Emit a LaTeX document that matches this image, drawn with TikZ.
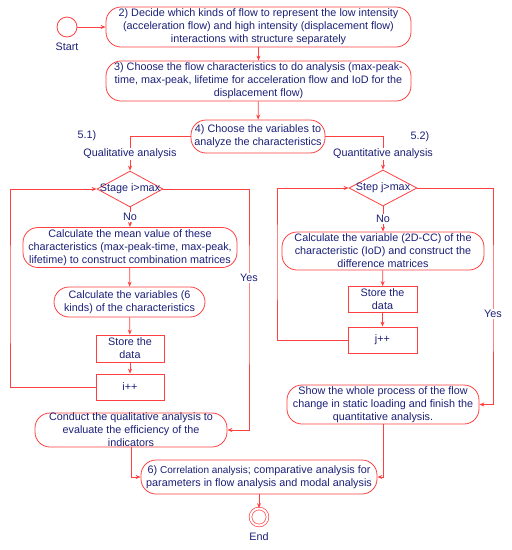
\documentclass[tikz,border=0pt]{standalone}
\usepackage{fontspec}
\setmainfont{Liberation Sans}
\usetikzlibrary{shapes.geometric,arrows.meta}
\definecolor{lred}{RGB}{255,64,64}
\definecolor{tblue}{RGB}{28,32,120}
\begin{document}
\begin{tikzpicture}[x=1pt,y=-1pt,
  every node/.style={text=tblue, font=\fontsize{10.8}{13}\selectfont},
  pill/.style={draw=lred, line width=0.8pt, rounded corners=15pt, align=center, inner sep=0pt, fill=white},
  rbox/.style={draw=lred, line width=0.8pt, align=center, inner sep=0pt, fill=white, minimum width=68pt},
  dia/.style={diamond, draw=lred, line width=0.8pt, inner sep=0pt, fill=white},
  lbl/.style={fill=white, inner sep=1pt},
  arr/.style={draw=lred, line width=0.8pt, -{Stealth[length=5pt,width=4pt]}}
]
\useasboundingbox (0,0) rectangle (512,550);
% start
\node[circle, draw=lred, line width=0.8pt, minimum size=20pt, inner sep=0pt] (st) at (67,27) {};
\node (stl) at (67,47) {Start};
\node[pill, minimum width=305pt, minimum height=40pt] (b2) at (258.5,27)
 {2) Decide which kinds of flow to represent the low intensity\\(acceleration flow) and high intensity (displacement flow)\\interactions with structure separately};
\node[pill, minimum width=305pt, minimum height=40pt] (b3) at (258.5,81)
 {3) Choose the flow characteristics to do analysis (max-peak-\\time, max-peak, lifetime for acceleration flow and IoD for the\\displacement flow)};
\node[pill, minimum width=134pt, minimum height=33pt] (b4) at (258,136.5)
 {4) Choose the variables to\\analyze the characteristics};
% left column
\node[dia, minimum width=66pt, minimum height=36pt] (d1) at (130,189) {};
\node (d1t) at (130,189) {Stage i>max};
\node[pill, minimum width=214pt, minimum height=40pt] (q1) at (130,247.5)
 {Calculate the mean value of these\\characteristics (max-peak-time, max-peak,\\lifetime) to construct combination matrices};
\node[pill, minimum width=151pt, minimum height=30pt] (q2) at (129.5,302)
 {Calculate the variables (6\\kinds) of the characteristics};
\node[rbox, minimum height=27pt] (q3) at (130,348.5) {Store the\\data};
\node[rbox, minimum height=26pt] (q4) at (130,387) {i++};
\node[pill, minimum width=192pt, minimum height=34pt] (q5) at (131,430)
 {Conduct the qualitative analysis to\\evaluate the efficiency of the\\indicators};
% right column
\node[dia, minimum width=68pt, minimum height=36pt] (d2) at (383,188) {};
\node (d2t) at (383,188) {Step j>max};
\node[pill, minimum width=202pt, minimum height=38pt] (r1) at (383,251)
 {Calculate the variable (2D-CC) of the\\characteristic (IoD) and construct the\\difference matrices};
\node[rbox, minimum width=69pt, minimum height=26pt] (r2) at (382.5,299.5) {Store the\\data};
\node[rbox, minimum width=69pt, minimum height=26pt] (r3) at (382.5,340) {j++};
\node[pill, minimum width=192pt, minimum height=39pt] (r4) at (383,404.5)
 {Show the whole process of the flow\\change in static loading and finish the\\quantitative analysis.};
% bottom
\node[pill, minimum width=236pt, minimum height=34pt] (b6) at (259,477)
 {6) {\fontsize{10}{13}\selectfont Correlation analysis}; comparative analysis for\\parameters in flow analysis and modal analysis};
\node[circle, draw=lred, line width=0.7pt, double, double distance=2pt, minimum size=17pt, inner sep=0pt] (en) at (259,517) {};
\node (enl) at (259,537) {End};
% helper coordinates
\coordinate (lL) at (10,300);
\coordinate (yL) at (249,300);
\coordinate (lR) at (277,260);
\coordinate (yR) at (493,300);
% connectors
\draw[arr] (st.east) -- (b2.west);
\draw[arr] (b2) -- (b3);
\draw[arr] (b3) -- (b4);
\draw[arr] (b4.west) -| (d1.north);
\draw[arr] (b4.east) -| (d2.north);
\draw[arr] (d1.south) -- (q1.north);
\draw[arr] (q1) -- (q2);
\draw[arr] (q2) -- (q3);
\draw[arr] (q3) -- (q4);
\draw[arr] (q4.west) -| (lL) |- (d1.west);
\draw[arr] (d1.east) -| (yL) |- (q5.east);
\draw[arr] (d2.south) -- (r1.north);
\draw[arr] (r1) -- (r2);
\draw[arr] (r2) -- (r3);
\draw[arr] (r3.west) -| (lR) |- (d2.west);
\draw[arr] (d2.east) -| (yR) |- (r4.east);
\draw[arr] (q5.south) |- (b6.west);
\draw[arr] (r4.south) |- (b6.east);
\draw[arr] (b6) -- (en);
% labels
\node (l51) at (87,136) {5.1)};
\node[lbl] (lq1) at (130,154) {Qualitative analysis};
\node (l52) at (420,137) {5.2)};
\node[lbl] (lq2) at (383,154) {Quantitative analysis};
\node[lbl] (no1) at (130,217) {No};
\node[lbl] (no2) at (383,219) {No};
\node[lbl] (ye1) at (249,278) {Yes};
\node[lbl] (ye2) at (493,314) {Yes};
\end{tikzpicture}
\end{document}
